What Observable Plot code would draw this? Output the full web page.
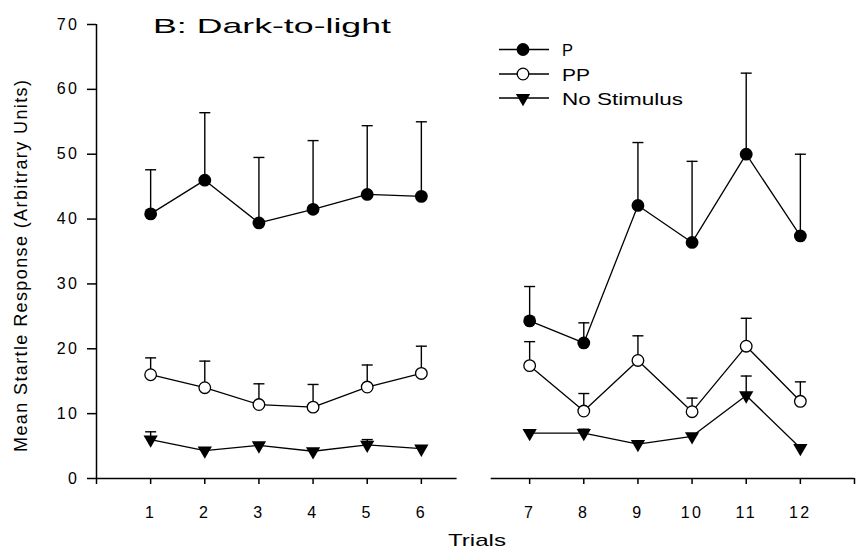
<!DOCTYPE html>
<html>
<head>
<meta charset="utf-8">
<script src="https://cdn.jsdelivr.net/npm/d3@7"></script>
<script src="https://cdn.jsdelivr.net/npm/@observablehq/plot@0.6"></script>
<style>
  body { margin: 0; background: #fff; }
  #chart { position: relative; width: 859px; height: 554px; }
  svg text { font-family: "Liberation Sans", Arial, sans-serif; }
</style>
</head>
<body>
<div id="chart"></div>
<script>
// ---- data ----
const trials = [1, 2, 3, 4, 5, 6, 7, 8, 9, 10, 11, 12];
const pMean  = [40.8, 46.0, 39.4, 41.5, 43.8, 43.5, 24.3, 20.9, 42.1, 36.4, 50.0, 37.4];
const pSem   = [6.8, 10.4, 10.1, 10.6, 10.6, 11.5, 5.3, 3.1, 9.7, 12.5, 12.5, 12.6];
const ppMean = [16.0, 14.0, 11.4, 11.0, 14.1, 16.2, 17.4, 10.4, 18.2, 10.3, 20.4, 11.9];
const ppSem  = [2.6, 4.1, 3.2, 3.5, 3.4, 4.2, 3.7, 2.7, 3.8, 2.1, 4.3, 3.0];
const nsMean = [6.0, 4.3, 5.1, 4.2, 5.2, 4.6, 7.0, 7.0, 5.3, 6.5, 12.8, 4.7];
const nsSem  = [1.2, 0.4, 0.4, 0.4, 0.8, 0.4, 0.3, 0.6, 0.3, 0.4, 3.0, 0.3];
const seriesNames = ["P", "PP", "No Stimulus"];
const yTicks = [0, 10, 20, 30, 40, 50, 60, 70];
const titleText = "B: Dark-to-light";
const xLabel = "Trials";
const yLabel = "Mean Startle Response (Arbitrary Units)";

// broken axis: trials 7-12 are shifted one slot right
const breakAfter = 6;
const slot = t => (t <= breakAfter ? t : t + 1);
const axisGap = [6.66, 7.29];

const seriesData = [
  {name: seriesNames[0], mean: pMean, sem: pSem},
  {name: seriesNames[1], mean: ppMean, sem: ppSem},
  {name: seriesNames[2], mean: nsMean, sem: nsSem}
];
const rows = seriesData.flatMap(s => trials.map((t, i) => ({
  series: s.name,
  trial: t,
  pos: slot(t),
  mean: s.mean[i],
  upper: s.mean[i] + s.sem[i],
  seg: s.name + (t <= breakAfter ? "-a" : "-b")
})));
const of = name => rows.filter(d => d.series === name);

const capSymbol = {draw(ctx, size) { const r = Math.sqrt(size / Math.PI); ctx.moveTo(-r, 0); ctx.lineTo(r, 0); }};
const triDown = {draw(ctx, size) {
  const y = Math.sqrt(size / (3 * Math.sqrt(3))), x = Math.sqrt(3) * y;
  ctx.moveTo(-x, -y); ctx.lineTo(x, -y); ctx.lineTo(0, 2 * y); ctx.closePath();
}};

const xTickPos = [0, ...trials.map(slot), slot(trials[trials.length - 1]) + 1];
const labelFor = new Map(trials.map(t => [slot(t), String(t)]));

const plot = Plot.plot({
  width: 859,
  height: 554,
  marginLeft: 96,
  marginRight: 5,
  marginTop: 24,
  marginBottom: 76,
  style: {fontFamily: "Liberation Sans, Arial, sans-serif", fontSize: "16px", color: "black", background: "white", overflow: "visible"},
  x: {domain: [0, xTickPos[xTickPos.length - 1]]},
  y: {domain: [0, 70]},
  marks: [
    Plot.ruleX([0], {stroke: "black", strokeWidth: 1.5}),
    Plot.ruleY([{x1: 0, x2: axisGap[0]}, {x1: axisGap[1], x2: xTickPos[xTickPos.length - 1]}],
      {y: () => 0, x1: "x1", x2: "x2", stroke: "black", strokeWidth: 1.5}),
    Plot.axisY({ticks: yTicks, tickSize: 9, tickPadding: 8, label: null, strokeWidth: 1.5, fontSize: 16}),
    Plot.axisX({ticks: xTickPos, tickSize: 6, tickPadding: 22, label: null, strokeWidth: 1.5, fontSize: 16,
      tickFormat: d => labelFor.get(d) ?? ""}),
    // error bars (upper only)
    Plot.ruleX(rows, {x: "pos", y1: "mean", y2: "upper", stroke: "black", strokeWidth: 1.4}),
    Plot.dot(rows, {x: "pos", y: "upper", symbol: capSymbol, r: 5.5, stroke: "black", strokeWidth: 1.4, fill: "none"}),
    // lines
    Plot.line(rows, {x: "pos", y: "mean", z: "seg", stroke: "black", strokeWidth: 1.3}),
    // markers
    Plot.dot(of(seriesNames[2]), {x: "pos", y: "mean", symbol: triDown, r: 5.3, fill: "black", stroke: "none"}),
    Plot.dot(of(seriesNames[1]), {x: "pos", y: "mean", r: 5.8, fill: "white", stroke: "black", strokeWidth: 1.3}),
    Plot.dot(of(seriesNames[0]), {x: "pos", y: "mean", r: 6.4, fill: "black", stroke: "none"})
  ]
});

document.getElementById("chart").appendChild(plot);

const svg = d3.select(plot);
const font = "Liberation Sans, Arial, sans-serif";

// style the tick labels produced by Plot (the only texts at this point)
svg.selectAll("text")
  .attr("font-size", 16)
  .style("font-size", "16px")
  .style("letter-spacing", "2.5px")
  .style("font-family", font);

// ---- titles & legend ----
svg.append("text").text(titleText)
  .attr("x", 153).attr("y", 32.5)
  .attr("text-anchor", "start")
  .attr("font-family", font).attr("font-size", 21)
  .attr("textLength", 238).attr("lengthAdjust", "spacingAndGlyphs")
  .attr("fill", "black");

svg.append("text").text(xLabel)
  .attr("x", 448).attr("y", 546)
  .attr("text-anchor", "start")
  .attr("font-family", font).attr("font-size", 17)
  .attr("textLength", 58).attr("lengthAdjust", "spacingAndGlyphs")
  .attr("fill", "black");

svg.append("text").text(yLabel)
  .attr("transform", "translate(27,266) rotate(-90)")
  .attr("text-anchor", "middle")
  .attr("font-family", font).attr("font-size", 18)
  .attr("textLength", 372).attr("lengthAdjust", "spacing")
  .attr("fill", "black");

const legendRows = [
  {name: seriesNames[0], y: 49.5, w: 11},
  {name: seriesNames[1], y: 74, w: 28},
  {name: seriesNames[2], y: 98, w: 121}
];
const lg = svg.append("g");
legendRows.forEach((r, i) => {
  lg.append("line").attr("x1", 499).attr("x2", 549).attr("y1", r.y).attr("y2", r.y)
    .attr("stroke", "black").attr("stroke-width", 1.3);
  const sym = [d3.symbolCircle, d3.symbolCircle, triDown][i];
  const rr = [6.4, 5.8, 5.3][i];
  lg.append("path").attr("transform", `translate(523,${r.y})`)
    .attr("d", d3.symbol(sym, Math.PI * rr * rr)())
    .attr("fill", i === 1 ? "white" : "black")
    .attr("stroke", i === 1 ? "black" : "none").attr("stroke-width", 1.3);
  lg.append("text").text(r.name)
    .attr("x", 562).attr("y", r.y + 6.5)
    .attr("text-anchor", "start")
    .attr("font-family", font).attr("font-size", 17)
    .attr("textLength", r.w).attr("lengthAdjust", "spacingAndGlyphs")
    .attr("fill", "black");
});
</script>
</body>
</html>
